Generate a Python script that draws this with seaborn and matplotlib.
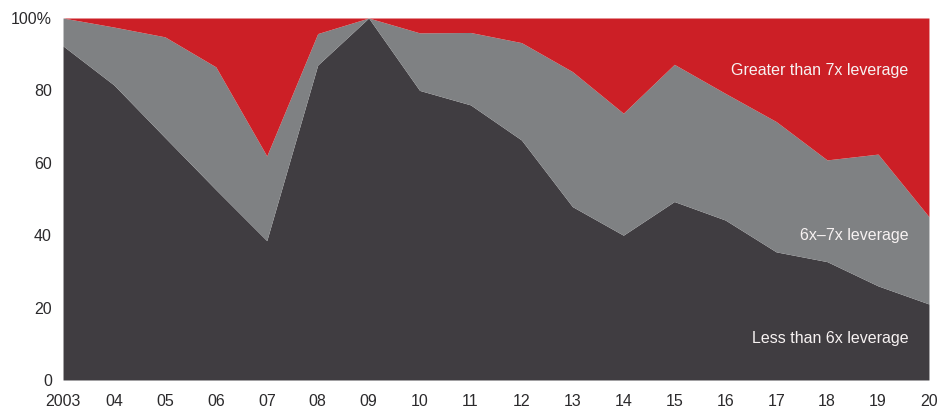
import matplotlib
matplotlib.use("Agg")
import matplotlib.pyplot as plt
import numpy as np
import seaborn as sns

# share of deals by leverage bucket, %
years = list(range(2003, 2021))
year_labels = ["2003"] + ["%02d" % (y % 100) for y in years[1:]]
less_6x = [92.3, 81.5, 67, 52.6, 38.5, 87, 100, 80, 76, 66.3, 47.9, 40, 49.3, 44.2, 35.4, 32.7, 26, 21]
up_to_7x = [100, 97.5, 94.8, 86.5, 61.9, 95.7, 100, 95.9, 96, 93.2, 85.2, 73.7, 87.2, 79.2, 71.4, 60.8, 62.4, 45.1]
mid_6_7x = [t - b for t, b in zip(up_to_7x, less_6x)]
over_7x = [100 - t for t in up_to_7x]

series_names = ["Less than 6x leverage", "6x\u20137x leverage", "Greater than 7x leverage"]
colors = ["#403d41", "#7f8183", "#cc1f26"]

sns.set_theme(style="white")
plt.rcParams['font.family'] = ['Liberation Sans', 'DejaVu Sans']

fig = plt.figure(figsize=(9.52, 4.12), dpi=100)
ax = fig.add_axes([0.0662, 0.0777, 0.9096, 0.8786])
ax.stackplot(years, less_6x, mid_6_7x, over_7x, colors=colors, linewidth=0)

ax.set_xlim(2003, 2020)
ax.set_ylim(0, 100)
ax.set_xticks(years)
ax.set_xticklabels(year_labels)
ax.set_yticks([0, 20, 40, 60, 80, 100])
ax.set_yticklabels(["0", "20", "40", "60", "80", "100%"])
ax.tick_params(axis="x", length=0, pad=10, labelsize=11.5, colors="#2b2a2c")
ax.tick_params(axis="y", length=0, pad=8, labelsize=11.5, colors="#2b2a2c")
sns.despine(ax=ax, left=True, bottom=True)

# in-area labels
lab_pos = [(2019.6, 11.5), (2019.6, 40), (2019.6, 85.5)]
for name, (x, y) in zip(series_names, lab_pos):
    ax.text(x, y, name, color="#f7f2f2", fontsize=11.5, ha="right", va="center")

fig.savefig("out.png", dpi=100)
